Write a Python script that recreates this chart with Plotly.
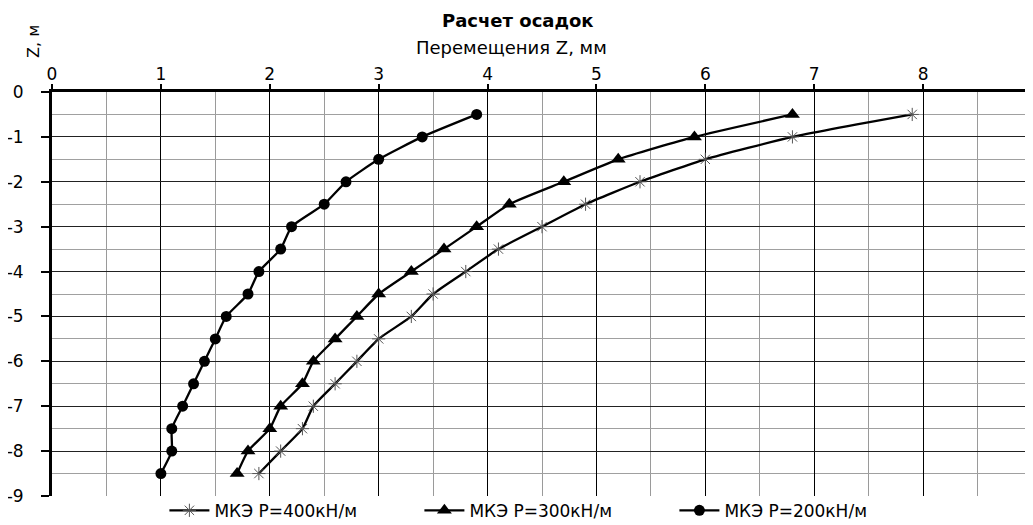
import plotly.graph_objects as go

depth = [-0.5, -1.0, -1.5, -2.0, -2.5, -3.0, -3.5, -4.0, -4.5, -5.0, -5.5, -6.0, -6.5, -7.0, -7.5, -8.0, -8.5]
disp_400 = [7.9, 6.8, 6.0, 5.4, 4.9, 4.5, 4.1, 3.8, 3.5, 3.3, 3.0, 2.8, 2.6, 2.4, 2.3, 2.1, 1.9]
disp_300 = [6.8, 5.9, 5.2, 4.7, 4.2, 3.9, 3.6, 3.3, 3.0, 2.8, 2.6, 2.4, 2.3, 2.1, 2.0, 1.8, 1.7]
disp_200 = [3.9, 3.4, 3.0, 2.7, 2.5, 2.2, 2.1, 1.9, 1.8, 1.6, 1.5, 1.4, 1.3, 1.2, 1.1, 1.1, 1.0]
names = ["МКЭ P=400кН/м", "МКЭ P=300кН/м", "МКЭ P=200кН/м"]
x_ticks = [0, 1, 2, 3, 4, 5, 6, 7, 8, 9]
x_labels = ["0", "1", "2", "3", "4", "5", "6", "7", "8", "9"]
y_ticks = [0, -1, -2, -3, -4, -5, -6, -7, -8, -9]
y_labels = ["0", "-1", "-2", "-3", "-4", "-5", "-6", "-7", "-8", "-9"]
title = "Расчет осадок"
x_title = "Перемещения Z, мм"
y_title = "Z, м"

FONT = "DejaVu Sans"

fig = go.Figure()
series = [
    (disp_400, names[0], dict(symbol="asterisk-open", size=11, color="#555", line=dict(width=1, color="#555"))),
    (disp_300, names[1], dict(symbol="triangle-up", size=13, color="black")),
    (disp_200, names[2], dict(symbol="circle", size=11, color="black")),
]
for xs, nm, mk in series:
    fig.add_trace(go.Scatter(
        x=xs, y=depth, name=nm, mode="lines+markers",
        line=dict(color="black", width=2.3, shape="spline", smoothing=0.5),
        marker=mk, cliponaxis=False,
    ))

# page body has an 8px margin, so the figure is sized/offset to compensate
fig.update_layout(
    width=1025, height=517,
    margin=dict(l=44, r=1, t=84, b=29, autoexpand=False),
    paper_bgcolor="white", plot_bgcolor="white",
    font=dict(family=FONT, size=16, color="black"),
    showlegend=True,
    legend=dict(orientation="h", x=0.505, xanchor="center", y=0.008, yanchor="top",
                font=dict(family=FONT, size=17), entrywidth=200, entrywidthmode="pixels",
                bgcolor="rgba(0,0,0,0)", tracegroupgap=0, itemwidth=40),
    xaxis=dict(
        side="top", range=[0, 9], tickvals=x_ticks, ticktext=x_labels,
        showline=True, linecolor="black", linewidth=3, automargin=False,
        ticks="outside", ticklen=5, tickwidth=2, tickcolor="black",
        showgrid=True, gridcolor="black", gridwidth=1,
        minor=dict(dtick=0.5, showgrid=True, gridcolor="#9a9a9a", gridwidth=1),
        zeroline=False, tickfont=dict(size=17), ticklabelstandoff=-3,
        ticklabeloverflow="allow",
    ),
    yaxis=dict(
        range=[-9, 0], tickvals=y_ticks, ticktext=y_labels,
        showline=True, linecolor="black", linewidth=3, automargin=False,
        ticks="outside", ticklen=8, tickwidth=2, tickcolor="black",
        showgrid=True, gridcolor="#222", gridwidth=1,
        minor=dict(dtick=0.5, showgrid=True, gridcolor="#a0a0a0", gridwidth=1),
        zeroline=False, tickfont=dict(size=17), ticklabelstandoff=14,
        ticklabeloverflow="allow",
    ),
    annotations=[
        dict(text="<b>" + title + "</b>", xref="paper", yref="paper", x=0.4755, y=1,
             xanchor="center", yanchor="middle",
             yshift=72, showarrow=False, font=dict(size=18, family=FONT)),
        dict(text=x_title, xref="paper", yref="paper", x=0.469, y=1,
             xanchor="center", yanchor="middle",
             yshift=45, showarrow=False, font=dict(size=18, family=FONT)),
        dict(text=y_title, xref="paper", yref="paper", x=0, y=1, xshift=-19,
             xanchor="center", yanchor="middle",
             yshift=50, textangle=-90, showarrow=False, font=dict(size=16, family=FONT)),
    ],
)

fig.write_html("out.html")
